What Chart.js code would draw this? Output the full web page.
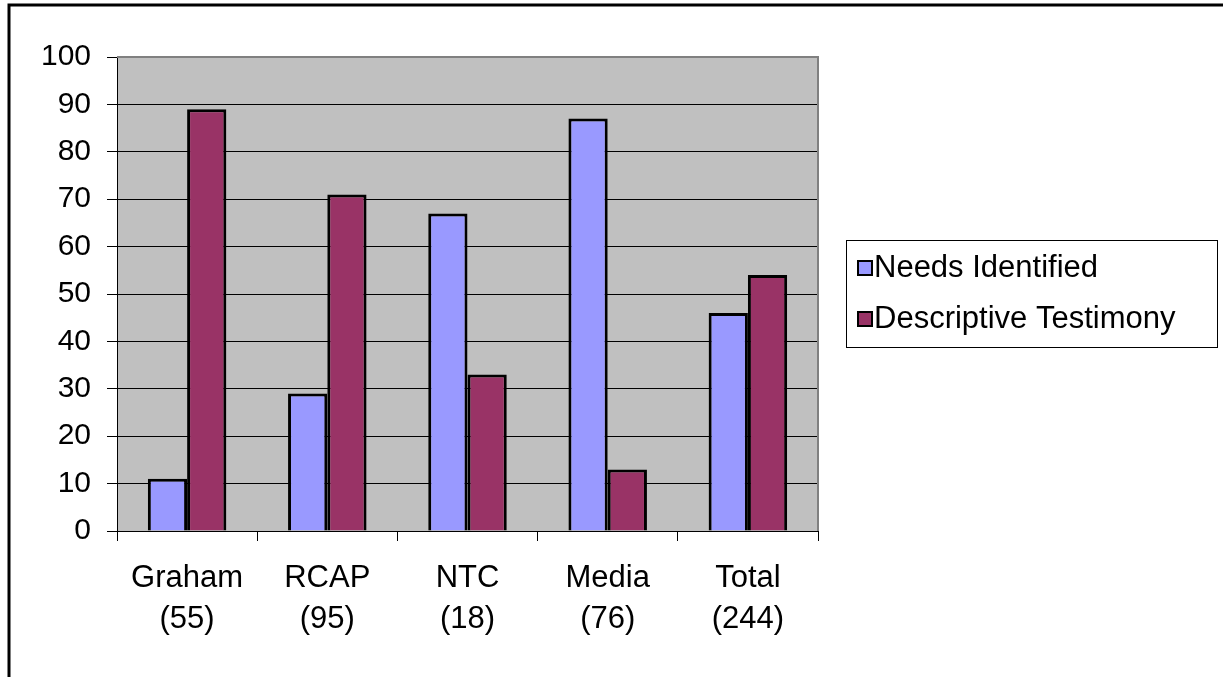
<!DOCTYPE html>
<html>
<head>
<meta charset="utf-8">
<script src="https://cdn.jsdelivr.net/npm/chart.js@4/dist/chart.umd.min.js"></script>
<style>
  body { margin: 0; background: #fff; }
</style>
</head>
<body>
<canvas id="myChart" width="1223" height="677"></canvas>
<script>
// data (percent)
var groups = [['Graham', '(55)'], ['RCAP', '(95)'], ['NTC', '(18)'], ['Media', '(76)'], ['Total', '(244)']];
var needsIdentified = [11, 29, 67, 87, 46];
var descriptiveTestimony = [89, 71, 33, 13, 54];
var seriesNames = ['Needs Identified', 'Descriptive Testimony'];
var yTicks = [0, 10, 20, 30, 40, 50, 60, 70, 80, 90, 100];

var fontFam = "'Liberation Sans', Arial, sans-serif";

// grey plot area, outer frame, and the boxed legend
var excelLook = {
  id: 'excelLook',
  beforeDraw: function (chart) {
    var c = chart.ctx, a = chart.chartArea;
    c.save();
    c.fillStyle = '#fff';
    c.fillRect(0, 0, chart.width, chart.height);
    c.fillStyle = '#c0c0c0';
    c.fillRect(a.left, a.top, a.right - a.left, a.bottom - a.top);
    c.restore();
  },
  afterDraw: function (chart) {
    var c = chart.ctx, a = chart.chartArea;
    c.save();
    // plot area border (top / right)
    c.strokeStyle = '#808080';
    c.lineWidth = 2;
    c.beginPath();
    c.moveTo(a.left, a.top);
    c.lineTo(a.right, a.top);
    c.lineTo(a.right, a.bottom);
    c.stroke();

    // outer frame
    c.strokeStyle = '#000';
    c.lineWidth = 3;
    c.beginPath();
    c.moveTo(9, chart.height);
    c.lineTo(9, 5);
    c.lineTo(chart.width, 5);
    c.stroke();

    // legend
    c.lineWidth = 1;
    c.strokeStyle = '#000';
    c.strokeRect(846.5, 240.5, 371, 107);
    c.font = '31px ' + fontFam;
    c.textBaseline = 'middle';
    c.textAlign = 'left';
    chart.data.datasets.forEach(function (ds, i) {
      var y = 268 + i * 51;
      c.fillStyle = ds.backgroundColor;
      c.fillRect(858, y - 7, 14, 14);
      c.lineWidth = 2;
      c.strokeRect(858, y - 7, 14, 14);
      c.fillStyle = '#000';
      c.fillText(ds.label, 874, y);
    });
    c.restore();
  }
};

var ctx = document.getElementById('myChart').getContext('2d');
var myChart = new Chart(ctx, {
  type: 'bar',
  data: {
    labels: groups,
    datasets: [{
      label: seriesNames[0],
      data: needsIdentified,
      backgroundColor: '#9999ff',
      borderColor: '#000',
      borderWidth: 3
    }, {
      label: seriesNames[1],
      data: descriptiveTestimony,
      backgroundColor: '#993366',
      borderColor: '#000',
      borderWidth: 3
    }]
  },
  options: {
    responsive: false,
    devicePixelRatio: 1,
    animation: false,
    layout: { padding: { left: 0, top: 57, right: 405, bottom: 0 } },
    plugins: {
      legend: { display: false },
      tooltip: { enabled: false }
    },
    datasets: {
      bar: { categoryPercentage: 0.56, barPercentage: 1 }
    },
    scales: {
      x: {
        offset: true,
        grid: {
          offset: true,
          drawOnChartArea: false,
          drawTicks: true,
          tickLength: 10,
          color: '#000'
        },
        border: { display: true, color: '#000', width: 1 },
        ticks: {
          color: '#000',
          padding: 17,
          maxRotation: 0,
          font: { family: fontFam, size: 31, lineHeight: 1.32 }
        },
        afterFit: function (scale) { scale.height = 146; }
      },
      y: {
        min: yTicks[0],
        max: yTicks[yTicks.length - 1],
        afterBuildTicks: function (scale) {
          scale.ticks = yTicks.map(function (v) { return { value: v }; });
        },
        grid: {
          color: '#000',
          drawTicks: true,
          tickLength: 10,
          tickColor: '#000'
        },
        border: { display: true, color: '#000', width: 1 },
        ticks: {
          color: '#000',
          padding: 16,
          font: { family: fontFam, size: 30 }
        },
        afterFit: function (scale) { scale.width = 117; }
      }
    }
  },
  plugins: [excelLook]
});
</script>
</body>
</html>
